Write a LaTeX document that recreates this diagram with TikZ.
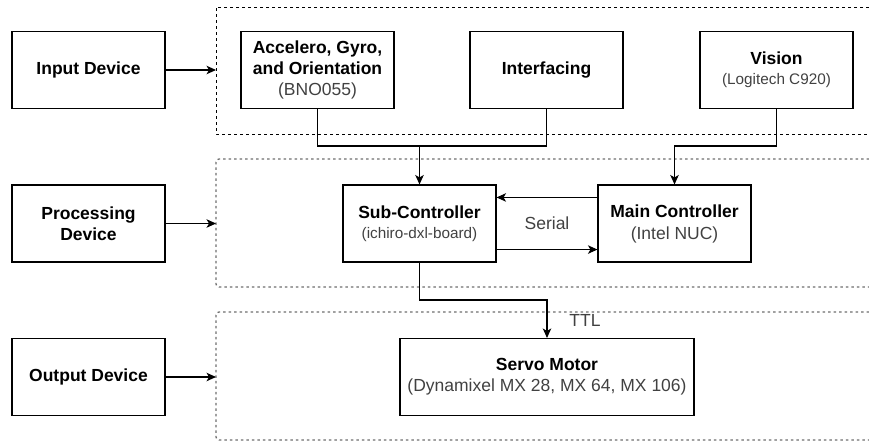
\documentclass[tikz,border=0pt]{standalone}
\usepackage{fontspec}
\setmainfont{Liberation Sans}
\usetikzlibrary{arrows.meta}
\definecolor{txtgray}{RGB}{65,65,65}
\definecolor{boxgray}{RGB}{110,110,110}
\newcommand{\gtxt}[1]{{\color{txtgray}#1}}
\newcommand{\smalltxt}{\fontsize{15.3}{18}\selectfont}
\tikzset{
  blk/.style={draw, line width=1.1pt, minimum width=153pt, minimum height=77pt,
    inner sep=0pt, align=center, font=\fontsize{17.5}{21}\selectfont},
  conn/.style={line width=1.1pt},
  arr/.style={conn, -{Stealth[length=9.5pt,width=8.5pt,inset=2.5pt]}},
  inbox/.style={line width=1pt, dash pattern=on 3pt off 3pt},
  grbox/.style={line width=1.3pt, draw=boxgray, dash pattern=on 2.5pt off 3pt, rounded corners=3pt},
  lbl/.style={font=\fontsize{17.5}{21}\selectfont, text=txtgray, inner sep=0pt}
}
\begin{document}
\begin{tikzpicture}[x=1pt,y=-1pt]
\useasboundingbox (0,0) rectangle (869,442);

% containers
\draw[inbox] (869,7) -- (216,7) -- (216,134) -- (869,134);
\draw[grbox] (869,159) -- (216,159) -- (216,287) -- (869,287);
\draw[grbox] (869,312) -- (216,312) -- (216,440) -- (869,440);
\coordinate (inL) at (216,70);
\coordinate (prL) at (216,223.5);
\coordinate (ouL) at (216,377);

% left category boxes
\node[blk] (inp) at (88.5,70) {\textbf{Input Device}};
\node[blk] (prc) at (88.5,223.5) {\textbf{Processing}\\\textbf{Device}};
\node[blk] (out) at (88.5,377) {\textbf{Output Device}};

% input devices
\node[blk] (acc) at (317.5,70) {\textbf{Accelero, Gyro,}\\\textbf{and Orientation}\\\gtxt{(BNO055)}};
\node[blk] (int) at (546.5,70) {\textbf{Interfacing}};
\node[blk] (vis) at (776.5,70) {\textbf{Vision}\\[-1pt]\gtxt{\smalltxt (Logitech C920)}};

% processing
\node[blk] (sub) at (419.5,223.5) {\textbf{Sub-Controller}\\[-1pt]\gtxt{\smalltxt (ichiro-dxl-board)}};
\node[blk] (main) at (674.5,223.5) {\textbf{Main Controller}\\[1pt]\gtxt{(Intel NUC)}};

% output
\node[blk, minimum width=294pt] (servo) at (547,377) {\textbf{Servo Motor}\\\gtxt{(Dynamixel MX 28, MX 64, MX 106)}};

% category arrows
\draw[arr] (inp.east) -- (inL);
\draw[arr] (prc.east) -- (prL);
\draw[arr] (out.east) -- (ouL);

% input to processing
\coordinate (j1) at (419.5,146);
\draw[conn] (acc.south) |- (j1) -| (int.south);
\draw[arr] (j1) -- (sub.north);
\coordinate (j2) at (776.5,146);
\draw[arr] (vis.south) -- (j2) -| (main.north);

% serial
\draw[arr] ([yshift=-13pt]main.north west) -- ([yshift=-13pt]sub.north east);
\draw[arr] ([yshift=13pt]sub.south east) -- ([yshift=13pt]main.south west);
\node[lbl] (serial) at (547,223) {Serial};

% TTL
\coordinate (j3) at (419.5,300);
\draw[arr] (sub.south) -- (j3) -| (servo.north);
\node[lbl] (ttl) at (585,320) {TTL};
\end{tikzpicture}
\end{document}
